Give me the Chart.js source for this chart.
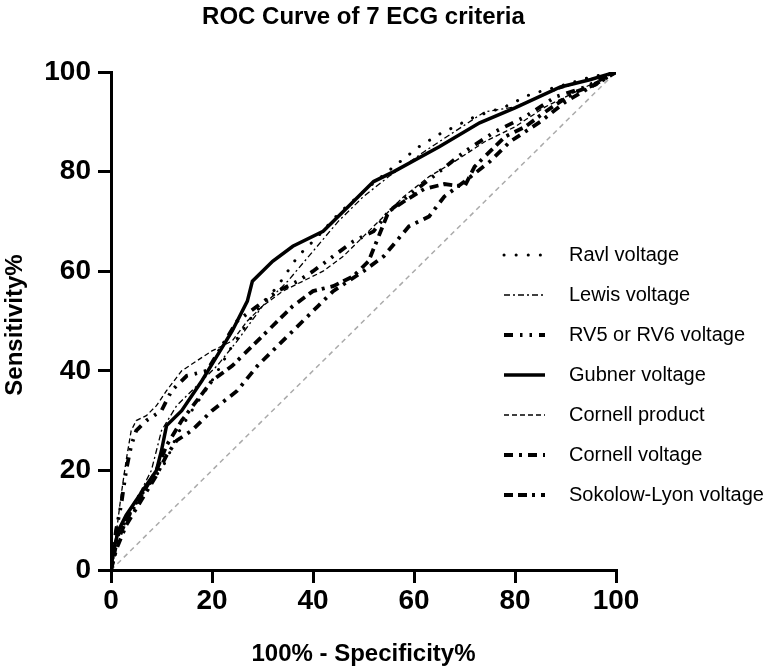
<!DOCTYPE html>
<html>
<head>
<meta charset="utf-8">
<script src="https://cdn.jsdelivr.net/npm/chart.js@4"></script>
<style>
    html, body { margin: 0; padding: 0; background: #fff; }
    #wrap { width: 776px; height: 672px; }
</style>
</head>
<body>
<div id="wrap"><canvas id="rocChart" width="776" height="672"></canvas></div>
<script>
// Datos: [100% - especificidad, sensibilidad]
const ravlVoltage = [[0,0],[1,6],[3,10],[6,15],[9,19],[11,22],[13,27],[16,32],[20,38],[24,45],[28,51],[33,57],[37,63],[41,67],[45,71.5],[50,76],[56,81],[61,85],[65,87.5],[72,91],[78,93],[83,95.5],[90,97.5],[95,99],[100,100]];
const lewisVoltage = [[0,0],[1,7],[3,11],[6,16],[8,20],[9,24],[10,28],[13,33],[17,37],[21,41],[25,46],[30,53],[35,58],[40,64],[45,70],[50,75],[55,79],[62,84],[68,88],[74,92],[80,93],[87,96],[93,98],[100,100]];
const rv5rv6Voltage = [[0,0],[1,8],[2,13],[3,20],[4,25],[5,28],[7,30],[10,32],[12,36],[15,39],[19,40],[22,45],[25,50],[29,53],[33,56],[37,58],[40,60],[44,63],[48,66],[52,68],[55,72],[60,76],[65,80],[70,84],[76,88],[82,91],[88,95],[94,97],[100,100]];
const gubnerVoltage = [[0,0],[0.5,4],[1.5,8],[3,11],[5,14],[7,17],[9,20],[10,24],[11,29],[14,32],[18,38],[21,43],[24,48],[27,54],[28,58],[32,62],[36,65],[42,68],[47,73],[52,78],[56,80],[65,85],[73,89.8],[80,92.8],[89,97],[95,98.5],[100,100]];
const cornellProduct = [[0,0],[1,7],[2,15],[3,22],[4,28],[5,30],[7,31],[9,33],[11,36],[14,40],[17,42],[20,44],[24,46],[27,50],[30,53],[34,56],[38,58],[42,60],[46,63],[50,67],[54,71],[58,75],[63,79],[68,82],[74,86],[80,89],[86,93],[92,96],[100,100]];
const cornellVoltage = [[0,0],[1,4],[3,9],[6,14],[9,19],[11,23],[13,26],[16,28],[20,32],[25,36],[29,41],[35,47],[41,53],[44,56],[50,60],[54,63],[59,69],[63,71],[66,75],[70,78],[75,82],[79,86],[85,90],[90,94],[95,97],[100,100]];
const sokolowLyon = [[0,0],[1,5],[3,10],[6,15],[9,20],[11,25],[14,30],[17,34],[20,38],[24,41],[28,45],[32,49],[36,53],[40,56],[44,57],[48,59],[51,62],[53,67],[55,72],[58,74],[62,76.5],[66,77.5],[70,77],[72,81],[75,84],[78,87],[82,89],[86,92],[88,93.4],[92,96],[96,97.5],[100,100]];
const referenceLine = [[0,0],[100,100]];

const seriesNames = ['Ravl voltage', 'Lewis voltage', 'RV5 or RV6 voltage', 'Gubner voltage', 'Cornell product', 'Cornell voltage', 'Sokolow-Lyon voltage'];
const axisTicks = [0, 20, 40, 60, 80, 100];

// Estilos de línea de cada criterio
const lineStyles = [
    { width: 3, dash: [0.1, 12], cap: 'round' },
    { width: 1.3, dash: [6, 3, 2, 3], cap: 'butt' },
    { width: 3.8, dash: [9, 7, 2.5, 7, 2.5, 7], cap: 'butt' },
    { width: 3.5, dash: [], cap: 'butt' },
    { width: 1.3, dash: [5, 3], cap: 'butt' },
    { width: 3.8, dash: [9, 6, 3, 6], cap: 'butt' },
    { width: 3.8, dash: [9, 5, 9, 5, 3, 6], cap: 'butt' }
];

const seriesData = [ravlVoltage, lewisVoltage, rv5rv6Voltage, gubnerVoltage, cornellProduct, cornellVoltage, sokolowLyon];
const fontFamily = "'Liberation Sans', Arial, sans-serif";

const toPoints = arr => arr.map(p => ({ x: p[0], y: p[1] }));

const datasets = seriesData.map((arr, i) => ({
    label: seriesNames[i],
    data: toPoints(arr),
    borderColor: '#000',
    borderWidth: lineStyles[i].width,
    borderDash: lineStyles[i].dash,
    borderCapStyle: lineStyles[i].cap,
    pointRadius: 0,
    tension: 0,
    fill: false
}));

datasets.push({
    label: 'reference',
    data: toPoints(referenceLine),
    borderColor: '#aaaaaa',
    borderWidth: 1.5,
    borderDash: [5, 4],
    pointRadius: 0,
    fill: false
});

// Textos y leyenda dibujados a mano
const textPlugin = {
    id: 'textPlugin',
    afterDraw(chart) {
        const ctx = chart.ctx;
        const area = chart.chartArea;
        const cx = (area.left + area.right) / 2;
        ctx.save();
        ctx.fillStyle = '#000';
        ctx.textAlign = 'center';
        ctx.textBaseline = 'middle';

        ctx.font = `bold 24px ${fontFamily}`;
        ctx.fillText('ROC Curve of 7 ECG criteria', cx, 17);

        ctx.font = `bold 24px ${fontFamily}`;
        ctx.fillText('100% - Specificity%', cx, 654);

        ctx.save();
        ctx.translate(15, (area.top + area.bottom) / 2 + 4);
        ctx.rotate(-Math.PI / 2);
        ctx.fillText('Sensitivity%', 0, 0);
        ctx.restore();

        // Leyenda
        ctx.textAlign = 'left';
        ctx.font = `20px ${fontFamily}`;
        seriesNames.forEach((name, i) => {
            const y = 255 + i * 40;
            const st = lineStyles[i];
            ctx.beginPath();
            ctx.lineWidth = st.width;
            ctx.lineCap = st.cap;
            ctx.setLineDash(st.dash);
            ctx.strokeStyle = '#000';
            ctx.moveTo(504, y);
            ctx.lineTo(545, y);
            ctx.stroke();
            ctx.setLineDash([]);
            ctx.fillText(name, 569, y);
        });
        ctx.restore();
    }
};

const axisCommon = {
    type: 'linear',
    min: 0,
    max: 100,
    afterBuildTicks: scale => { scale.ticks = axisTicks.map(v => ({ value: v })); },
    grid: {
        drawOnChartArea: false,
        drawTicks: true,
        tickLength: 13,
        color: '#000',
        lineWidth: 3
    },
    border: { color: '#000', width: 3 },
    ticks: {
        color: '#000',
        font: { family: fontFamily, size: 28, weight: 'bold' }
    }
};

new Chart(document.getElementById('rocChart'), {
    type: 'line',
    data: { datasets },
    options: {
        responsive: false,
        animation: false,
        layout: { padding: { top: 72, right: 160, left: 0, bottom: 0 } },
        plugins: {
            legend: { display: false },
            tooltip: { enabled: false }
        },
        scales: {
            x: {
                ...axisCommon,
                position: 'bottom',
                ticks: { ...axisCommon.ticks, padding: 1, maxRotation: 0 },
                afterFit: scale => { scale.height = 102; }
            },
            y: {
                ...axisCommon,
                position: 'left',
                ticks: { ...axisCommon.ticks, padding: 7 },
                afterFit: scale => { scale.width = 111; }
            }
        }
    },
    plugins: [textPlugin]
});
</script>
</body>
</html>
